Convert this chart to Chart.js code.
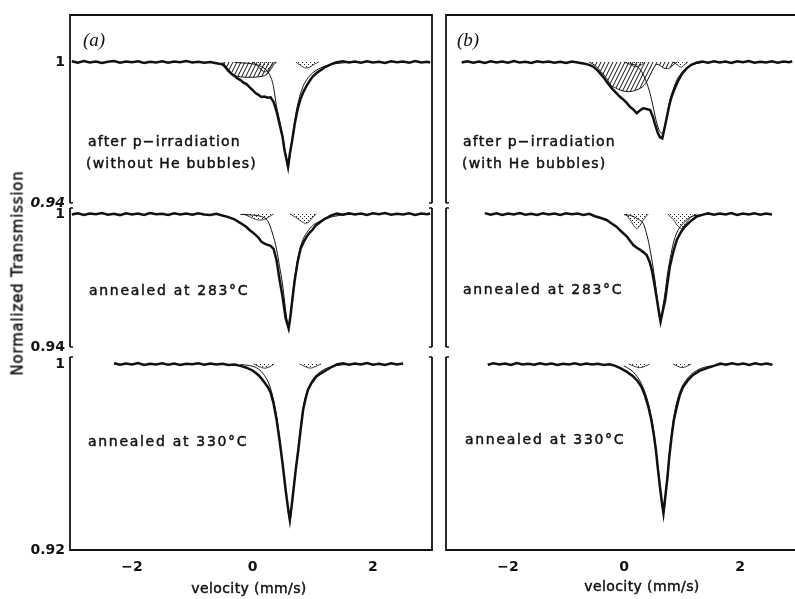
<!DOCTYPE html>
<html><head><meta charset="utf-8">
<script src="https://cdn.jsdelivr.net/npm/chart.js@4/dist/chart.umd.min.js"></script>
<style>
html,body{margin:0;padding:0;background:#fff;overflow:hidden;}
#wrap{position:relative;width:795px;height:599px;overflow:hidden;background:#fff;}
canvas{position:absolute;left:0;top:0;}
.t{position:absolute;font-family:"DejaVu Sans";color:#111;white-space:nowrap;line-height:14px;font-size:14px;-webkit-text-stroke:0.45px #111;}
.ann{letter-spacing:1.2px;}
.pl{position:absolute;font-family:"Liberation Serif";font-style:italic;font-size:19px;line-height:19px;color:#111;}
</style></head><body><div id="wrap">
<canvas id="c_a1" width="810" height="599" style="width:810px;height:599px"></canvas>
<canvas id="c_a2" width="810" height="599" style="width:810px;height:599px"></canvas>
<canvas id="c_a3" width="810" height="599" style="width:810px;height:599px"></canvas>
<canvas id="c_b1" width="810" height="599" style="width:810px;height:599px"></canvas>
<canvas id="c_b2" width="810" height="599" style="width:810px;height:599px"></canvas>
<canvas id="c_b3" width="810" height="599" style="width:810px;height:599px"></canvas>
</div>
<script>
// ---------- tick values / labels ----------
const velocityTicks = [-2, 0, 2];
const velocityTickLabels = ['\u22122', '0', '2'];
const row1Ticks = [0.94, 1];
const row1TickLabels = ['0.94', '1'];
const row2Ticks = [0.94, 1];
const row2TickLabels = ['0.94', '1'];
const row3Ticks = [0.92, 1];
const row3TickLabels = ['0.92', '1'];

// ---------- texts ----------
const panelLabels = ['(a)', '(b)'];
const yTitle = 'Normalized Transmission';
const xTitle = 'velocity (mm/s)';
const a1Text = ['after p\u2212irradiation', '(without He bubbles)'];
const b1Text = ['after p\u2212irradiation', '(with He bubbles)'];
const a2Text = 'annealed at 283\u00B0C';
const b2Text = 'annealed at 283\u00B0C';
const a3Text = 'annealed at 330\u00B0C';
const b3Text = 'annealed at 330\u00B0C';

// ---------- panel (a) row 1 : after p-irradiation, without He ----------
const a1Data = [[-3.0,1.0003],[-2.9,0.9997],[-2.8,1.0004],[-2.7,0.9998],[-2.6,1.0002],[-2.5,0.9996],[-2.4,1.0001],[-2.3,1.0004],[-2.2,0.9997],[-2.1,1.0002],[-2.0,0.9999],[-1.9,1.0003],[-1.8,0.9996],[-1.7,1.0001],[-1.6,0.9998],[-1.5,1.0003],[-1.4,0.9997],[-1.3,1.0002],[-1.2,0.9999],[-1.1,1.0004],[-1.0,0.9998],[-0.9,1.0001],[-0.8,0.9997],[-0.7,1.0000],[-0.6,0.9995],
[-0.5,0.9990],[-0.45,0.9978],[-0.4,0.9962],[-0.35,0.9950],[-0.3,0.9941],[-0.25,0.9930],[-0.2,0.9923],[-0.15,0.9912],[-0.1,0.9906],[-0.05,0.9893],[0.0,0.9881],[0.05,0.9868],[0.1,0.9860],[0.15,0.9851],[0.2,0.9853],[0.25,0.9848],[0.3,0.9850],[0.35,0.9830],[0.4,0.9790],[0.45,0.9735],[0.5,0.9680],[0.53,0.9626],[0.56,0.9590],[0.59,0.9553],[0.62,0.9610],[0.66,0.9668],[0.7,0.9735],[0.75,0.9800],[0.8,0.9845],[0.85,0.9875],[0.9,0.9900],[0.95,0.9920],[1.0,0.9938],[1.05,0.9950],[1.1,0.9960],[1.15,0.9968],[1.2,0.9978],[1.25,0.9984],[1.3,0.9990],[1.35,0.9995],[1.4,0.9999],[1.5,1.0003],
[1.6,0.9998],[1.7,1.0002],[1.8,0.9997],[1.9,1.0003],[2.0,0.9998],[2.1,1.0001],[2.2,0.9996],[2.3,1.0003],[2.4,0.9999],[2.5,1.0002],[2.6,0.9997],[2.7,1.0004],[2.8,0.9998],[2.9,1.0001],[2.95,0.9998]];
const a1Singlet = [[-0.3,0.9998],[-0.1,0.9995],[0.0,0.9992],[0.1,0.9986],[0.2,0.9972],[0.28,0.9948],[0.34,0.9905],[0.4,0.9810],[0.45,0.9750],[0.5,0.9685],[0.55,0.9610],[0.59,0.9553],[0.63,0.9615],[0.67,0.9695],[0.72,0.9780],[0.77,0.9840],[0.83,0.9890],[0.9,0.9925],[1.0,0.9954],[1.1,0.9971],[1.25,0.9986],[1.45,0.9995],[1.7,1.0]];
const a1Hatched = [[-0.5,1.0],[-0.45,0.9985],[-0.4,0.9968],[-0.35,0.9953],[-0.3,0.9943],[-0.2,0.9937],[-0.1,0.9935],[0.0,0.9935],[0.1,0.9937],[0.2,0.9942],[0.25,0.9950],[0.3,0.9968],[0.35,0.9988],[0.4,1.0]];
const a1DotsLeft = [[0.0,1.0],[0.08,0.9985],[0.15,0.9965],[0.2,0.9958],[0.25,0.9965],[0.32,0.9988],[0.38,1.0]];
const a1DotsRight = [[0.72,1.0],[0.8,0.9985],[0.88,0.9975],[0.95,0.9978],[1.02,0.9990],[1.1,1.0]];

// ---------- panel (a) row 2 : annealed at 283 C ----------
const a2Data = [[-3.0,0.9998],[-2.9,1.0003],[-2.8,0.9996],[-2.7,1.0002],[-2.6,0.9999],[-2.5,1.0004],[-2.4,0.9997],[-2.3,1.0001],[-2.2,0.9995],[-2.1,1.0003],[-2.0,0.9998],[-1.9,1.0002],[-1.8,0.9996],[-1.7,1.0004],[-1.6,0.9999],[-1.5,1.0001],[-1.4,0.9996],[-1.3,1.0003],[-1.2,0.9998],[-1.1,1.0002],[-1.0,0.9997],[-0.9,1.0003],[-0.8,0.9998],[-0.7,0.9996],[-0.6,1.0001],
[-0.5,0.9993],[-0.4,0.9986],[-0.3,0.9976],[-0.2,0.9959],[-0.1,0.9941],[-0.05,0.9928],[0.0,0.9918],[0.05,0.9906],[0.1,0.9893],[0.15,0.9874],[0.2,0.9866],[0.25,0.9861],[0.3,0.9856],[0.35,0.9843],[0.4,0.9790],[0.45,0.9702],[0.5,0.9625],[0.55,0.9530],[0.6,0.9484],[0.63,0.9540],[0.66,0.9610],[0.7,0.9700],[0.75,0.9785],[0.8,0.9845],[0.85,0.9874],[0.9,0.9898],[0.95,0.9916],[1.0,0.9930],[1.05,0.9948],[1.1,0.9958],[1.15,0.9968],[1.2,0.9978],[1.25,0.9985],[1.3,0.9993],[1.4,1.0002],[1.5,0.9997],
[1.6,1.0003],[1.7,0.9998],[1.8,1.0002],[1.9,0.9996],[2.0,1.0003],[2.1,0.9999],[2.2,1.0004],[2.3,0.9997],[2.4,1.0001],[2.5,0.9998],[2.6,1.0003],[2.7,0.9996],[2.8,1.0002],[2.9,0.9999],[2.95,1.0002]];
const a2Singlet = [[-0.2,0.9998],[0.0,0.9995],[0.15,0.9988],[0.25,0.9970],[0.33,0.9914],[0.4,0.9840],[0.45,0.9762],[0.5,0.9680],[0.53,0.9612],[0.56,0.9545],[0.6,0.9484],[0.64,0.9575],[0.68,0.9670],[0.73,0.9765],[0.78,0.9835],[0.83,0.9880],[0.9,0.9915],[1.0,0.9948],[1.1,0.9965],[1.25,0.9982],[1.45,0.9994],[1.7,1.0]];
const a2DotsLeft = [[-0.15,1.0],[-0.05,0.9988],[0.05,0.9976],[0.12,0.9972],[0.2,0.9976],[0.28,0.9988],[0.35,1.0]];
const a2DotsRight = [[0.62,1.0],[0.72,0.9985],[0.82,0.9965],[0.88,0.9958],[0.94,0.9965],[1.0,0.9985],[1.06,1.0]];

// ---------- panel (a) row 3 : annealed at 330 C ----------
const a3Data = [[-2.3,1.0003],[-2.2,0.9997],[-2.1,1.0002],[-2.0,0.9998],[-1.9,1.0004],[-1.8,0.9996],[-1.7,1.0001],[-1.6,0.9998],[-1.5,1.0003],[-1.4,0.9997],[-1.3,1.0002],[-1.2,0.9996],[-1.1,1.0001],[-1.0,0.9999],[-0.9,1.0003],[-0.8,0.9997],[-0.7,1.0002],[-0.6,0.9998],[-0.5,1.0001],[-0.4,0.9996],[-0.3,0.9998],
[-0.2,0.9992],[-0.1,0.9984],[0.0,0.9972],[0.05,0.9962],[0.1,0.9952],[0.15,0.9937],[0.2,0.9920],[0.25,0.9902],[0.3,0.9878],[0.35,0.9830],[0.4,0.9760],[0.45,0.9670],[0.5,0.9570],[0.55,0.9458],[0.59,0.9380],[0.62,0.9329],[0.65,0.9390],[0.68,0.9458],[0.72,0.9550],[0.76,0.9630],[0.8,0.9720],[0.84,0.9802],[0.88,0.9850],[0.92,0.9888],[0.98,0.9918],[1.06,0.9946],[1.15,0.9962],[1.23,0.9974],[1.32,0.9988],[1.4,0.9998],
[1.5,1.0003],[1.6,0.9997],[1.7,1.0002],[1.8,0.9998],[1.9,1.0004],[2.0,0.9997],[2.1,1.0001],[2.2,0.9996],[2.3,1.0003],[2.4,0.9998],[2.5,1.0002]];
const a3Singlet = [[-0.2,0.9998],[0.0,0.9990],[0.1,0.9978],[0.2,0.9950],[0.28,0.9910],[0.35,0.9845],[0.4,0.9775],[0.45,0.9680],[0.5,0.9578],[0.55,0.9462],[0.62,0.9329],[0.68,0.9462],[0.72,0.9555],[0.76,0.9640],[0.8,0.9730],[0.84,0.9810],[0.9,0.9878],[0.98,0.9925],[1.06,0.9952],[1.2,0.9978],[1.4,0.9993],[1.7,1.0]];
const a3DotsLeft = [[0.02,1.0],[0.1,0.9990],[0.2,0.9982],[0.3,0.9990],[0.36,1.0]];
const a3DotsRight = [[0.78,1.0],[0.88,0.9988],[0.96,0.9982],[1.05,0.9990],[1.14,1.0]];

// ---------- panel (b) row 1 : after p-irradiation, with He ----------
const b1Data = [[-2.8,0.9998],[-2.7,1.0003],[-2.6,0.9997],[-2.5,1.0002],[-2.4,0.9996],[-2.3,1.0003],[-2.2,0.9998],[-2.1,1.0002],[-2.0,0.9997],[-1.9,1.0004],[-1.8,0.9998],[-1.7,1.0001],[-1.6,0.9996],[-1.5,1.0003],[-1.4,0.9999],[-1.3,1.0002],[-1.2,0.9997],[-1.1,1.0001],[-1.0,0.9996],[-0.9,1.0002],[-0.8,0.9998],
[-0.7,0.9994],[-0.6,0.9988],[-0.53,0.9980],[-0.45,0.9962],[-0.36,0.9937],[-0.28,0.9910],[-0.21,0.9888],[-0.14,0.9870],[-0.07,0.9852],[0.0,0.9838],[0.05,0.9825],[0.1,0.9810],[0.15,0.9800],[0.22,0.9782],[0.28,0.9795],[0.33,0.9803],[0.39,0.9800],[0.45,0.9796],[0.5,0.9765],[0.53,0.9739],[0.58,0.9700],[0.62,0.9680],[0.66,0.9675],[0.7,0.9720],[0.74,0.9767],[0.78,0.9815],[0.82,0.9852],[0.88,0.9890],[0.94,0.9923],[1.0,0.9950],[1.08,0.9973],[1.16,0.9988],[1.25,0.9997],
[1.35,1.0002],[1.45,0.9997],[1.55,1.0003],[1.65,0.9998],[1.75,1.0002],[1.85,0.9996],[1.95,1.0003],[2.05,0.9999],[2.15,1.0004],[2.25,0.9997],[2.35,1.0001],[2.45,0.9998],[2.55,1.0003],[2.65,0.9997],[2.75,1.0002],[2.85,0.9999],[2.9,1.0003]];
const b1Singlet = [[0.1,0.9995],[0.2,0.9985],[0.3,0.9960],[0.39,0.9912],[0.45,0.9865],[0.5,0.9812],[0.55,0.9755],[0.59,0.9720],[0.63,0.9700],[0.66,0.9697],[0.7,0.9725],[0.74,0.9775],[0.79,0.9838],[0.85,0.9885],[0.91,0.9923],[1.0,0.9955],[1.08,0.9975],[1.2,0.9990],[1.4,1.0]];
const b1Hatched = [[-0.6,1.0],[-0.5,0.9985],[-0.4,0.9960],[-0.3,0.9930],[-0.23,0.9902],[-0.15,0.9890],[-0.07,0.9881],[0.0,0.9876],[0.1,0.9874],[0.2,0.9880],[0.28,0.9888],[0.35,0.9902],[0.39,0.9916],[0.44,0.9940],[0.48,0.9960],[0.52,0.9978],[0.57,0.9990],[0.62,0.9985],[0.68,0.9975],[0.75,0.9972],[0.82,0.9980],[0.88,0.9995],[0.92,1.0]];
const b1DotsLeft = [[0.0,1.0],[0.1,0.9990],[0.2,0.9980],[0.3,0.9988],[0.36,1.0]];
const b1DotsRight = [[0.84,1.0],[0.92,0.9988],[0.98,0.9978],[1.04,0.9988],[1.1,1.0]];

// ---------- panel (b) row 2 : annealed at 283 C ----------
const b2Data = [[-2.4,1.0004],[-2.3,0.9997],[-2.2,1.0003],[-2.1,0.9996],[-2.0,1.0002],[-1.9,0.9998],[-1.8,1.0004],[-1.7,0.9997],[-1.6,1.0001],[-1.5,0.9996],[-1.4,1.0003],[-1.3,0.9998],[-1.2,1.0002],[-1.1,0.9996],[-1.0,1.0003],[-0.9,0.9999],[-0.8,1.0002],[-0.7,0.9996],[-0.6,1.0001],
[-0.5,0.9990],[-0.4,0.9982],[-0.3,0.9973],[-0.22,0.9958],[-0.13,0.9943],[-0.05,0.9922],[0.05,0.9898],[0.1,0.9880],[0.16,0.9860],[0.22,0.9848],[0.28,0.9838],[0.34,0.9826],[0.39,0.9815],[0.44,0.9785],[0.48,0.9747],[0.52,0.9690],[0.56,0.9627],[0.6,0.9560],[0.63,0.9515],[0.67,0.9565],[0.71,0.9612],[0.75,0.9690],[0.79,0.9762],[0.85,0.9830],[0.91,0.9883],[0.98,0.9918],[1.05,0.9943],[1.15,0.9968],[1.25,0.9988],[1.35,0.9996],
[1.45,1.0003],[1.55,0.9997],[1.65,1.0002],[1.75,0.9998],[1.85,1.0004],[1.95,0.9996],[2.05,1.0002],[2.15,0.9998],[2.25,1.0003],[2.35,0.9997],[2.45,1.0002],[2.55,0.9998]];
const b2Singlet = [[0.0,0.9997],[0.15,0.9990],[0.25,0.9975],[0.33,0.9958],[0.4,0.9900],[0.45,0.9838],[0.5,0.9760],[0.54,0.9688],[0.58,0.9600],[0.63,0.9515],[0.67,0.9580],[0.71,0.9650],[0.75,0.9730],[0.8,0.9805],[0.85,0.9868],[0.91,0.9915],[0.97,0.9943],[1.05,0.9965],[1.14,0.9985],[1.3,0.9996],[1.5,1.0]];
const b2DotsLeft = [[0.02,1.0],[0.1,0.9975],[0.17,0.9948],[0.22,0.9935],[0.28,0.9950],[0.35,0.9980],[0.42,1.0]];
const b2DotsRight = [[0.75,1.0],[0.85,0.9975],[0.93,0.9945],[0.99,0.9935],[1.06,0.9955],[1.15,0.9985],[1.25,1.0]];

// ---------- panel (b) row 3 : annealed at 330 C ----------
const b3Data = [[-2.35,0.9997],[-2.25,1.0003],[-2.15,0.9998],[-2.05,1.0002],[-1.95,0.9996],[-1.85,1.0004],[-1.75,0.9998],[-1.65,1.0001],[-1.55,0.9997],[-1.45,1.0003],[-1.35,0.9998],[-1.25,1.0002],[-1.15,0.9996],[-1.05,1.0001],[-0.95,0.9998],[-0.85,1.0003],[-0.75,0.9997],[-0.65,1.0002],[-0.55,0.9998],[-0.45,1.0001],[-0.35,0.9996],[-0.25,0.9999],
[-0.15,0.9992],[-0.05,0.9980],[0.05,0.9966],[0.16,0.9946],[0.23,0.9928],[0.3,0.9902],[0.36,0.9865],[0.42,0.9816],[0.47,0.9760],[0.51,0.9702],[0.55,0.9630],[0.58,0.9558],[0.62,0.9470],[0.65,0.9410],[0.68,0.9358],[0.71,0.9425],[0.75,0.9515],[0.78,0.9600],[0.82,0.9687],[0.86,0.9760],[0.91,0.9816],[0.96,0.9865],[1.02,0.9902],[1.1,0.9930],[1.19,0.9953],[1.3,0.9970],[1.43,0.9982],[1.55,0.9992],
[1.66,1.0002],[1.76,0.9997],[1.86,1.0003],[1.96,0.9998],[2.06,1.0002],[2.16,0.9996],[2.26,1.0003],[2.36,0.9998],[2.46,1.0002],[2.56,0.9997]];
const b3Singlet = [[0.0,0.9992],[0.16,0.9965],[0.3,0.9915],[0.42,0.9830],[0.51,0.9715],[0.58,0.9570],[0.63,0.9460],[0.68,0.9358],[0.72,0.9440],[0.78,0.9612],[0.86,0.9775],[0.96,0.9878],[1.1,0.9940],[1.3,0.9978],[1.6,0.9995],[1.8,1.0]];
const b3DotsLeft = [[0.08,1.0],[0.18,0.9990],[0.27,0.9984],[0.36,0.9990],[0.44,1.0]];
const b3DotsRight = [[0.84,1.0],[0.93,0.9990],[1.0,0.9984],[1.08,0.9990],[1.16,1.0]];

// ---------- layout (positions, not data) ----------
const ROWS = [
  {min:0.94, max:1.02,   top:15,  bottom:203, ticks:row1Ticks, labels:row1TickLabels, italicFirst:true},
  {min:0.94, max:1.0027, top:208, bottom:347, ticks:row2Ticks, labels:row2TickLabels, italicFirst:false},
  {min:0.92, max:1.003,  top:357, bottom:550, ticks:row3Ticks, labels:row3TickLabels, italicFirst:false}
];
const COLS = {
  left:  {padL:0,   padR:378, xmin:-3.03, xmax:2.98, showY:true},
  right: {padL:446, padR:12,  xmin:-3.07, xmax:3.0,  showY:false}
};
const CW = 810, CH = 599;

function makeTile(kind) {
  const c = document.createElement('canvas');
  const g = c.getContext('2d');
  if (kind === 'hatch') {
    c.width = 4; c.height = 8;
    g.strokeStyle = '#111'; g.lineWidth = 1;
    for (const x0 of [-4, 0, 4]) { g.beginPath(); g.moveTo(x0, 8); g.lineTo(x0 + 4, 0); g.stroke(); }
  } else {
    c.width = 4; c.height = 4;
    g.fillStyle = '#222';
    g.fillRect(0, 0, 1, 1); g.fillRect(2, 2, 1, 1);
  }
  return c;
}
const hatchTile = makeTile('hatch');
const dotTile = makeTile('dots');

const framePlugin = {
  id: 'frame',
  afterDatasetsDraw(chart, args, o) {
    const {ctx, chartArea: a} = chart;
    ctx.save();
    ctx.strokeStyle = '#111';
    ctx.lineWidth = 1.8;
    ctx.beginPath();
    ctx.moveTo(a.left, a.top); ctx.lineTo(a.left, a.bottom);
    ctx.moveTo(a.right, a.top); ctx.lineTo(a.right, a.bottom);
    if (o.top) { ctx.moveTo(a.left - 0.9, a.top); ctx.lineTo(a.right + 0.9, a.top); }
    if (o.bottom) { ctx.moveTo(a.left - 0.9, a.bottom); ctx.lineTo(a.right + 0.9, a.bottom); }
    ctx.stroke();
    ctx.lineWidth = 1.4;
    ctx.beginPath();
    if (!o.top) {
      ctx.moveTo(a.left, a.top); ctx.lineTo(a.left + 3, a.top);
      ctx.moveTo(a.right, a.top); ctx.lineTo(a.right - 3, a.top);
    }
    if (!o.bottom) {
      ctx.moveTo(a.left, a.bottom); ctx.lineTo(a.left + 3, a.bottom);
      ctx.moveTo(a.right, a.bottom); ctx.lineTo(a.right - 3, a.bottom);
    }
    ctx.stroke();
    ctx.restore();
  }
};

const xy = arr => arr.map(p => ({x: p[0], y: p[1]}));

function buildPanel(id, colKey, rowIdx, panel) {
  const col = COLS[colKey], row = ROWS[rowIdx];
  const canvas = document.getElementById(id);
  const ctx = canvas.getContext('2d');
  const hatchPat = ctx.createPattern(hatchTile, 'repeat');
  const dotPat = ctx.createPattern(dotTile, 'repeat');
  const ds = [];
  ds.push({data: xy(panel.data), borderColor:'#111', borderWidth:2.5, pointRadius:0, tension:0, fill:false});
  ds.push({data: xy(panel.singlet), borderColor:'#111', borderWidth:1, pointRadius:0, cubicInterpolationMode:'monotone', fill:false});
  panel.dots.forEach(d => ds.push({data: xy(d), borderColor:'#111', borderWidth:0.8, pointRadius:0,
      cubicInterpolationMode:'monotone', backgroundColor: dotPat, fill:{value:1}}));
  if (panel.hatched) ds.push({data: xy(panel.hatched), borderColor:'#111', borderWidth:1, pointRadius:0,
      cubicInterpolationMode:'monotone', backgroundColor: hatchPat, fill:{value:1}});
  const isBottom = rowIdx === 2;
  const padBottom = isBottom ? (CH - row.bottom - 30) : (CH - row.bottom);
  return new Chart(ctx, {
    type: 'line',
    data: {datasets: ds},
    options: {
      responsive: false, animation: false, devicePixelRatio: 1, events: [],
      layout: {padding: {left: col.padL, right: col.padR, top: row.top, bottom: padBottom}},
      plugins: {legend:{display:false}, tooltip:{enabled:false},
                frame: {top: rowIdx === 0, bottom: isBottom}},
      scales: {
        x: {
          type: 'linear', min: col.xmin, max: col.xmax, display: isBottom,
          grid: {display:false, drawTicks:false}, border: {display:false},
          ticks: {autoSkip:false, maxRotation:0, padding:9, color:'#111',
                  font:{family:'DejaVu Sans', size:14, weight:'bold'},
                  callback: (v, i) => velocityTickLabels[i]},
          afterBuildTicks: s => { s.ticks = velocityTicks.map(v => ({value: v})); },
          afterFit: s => { s.height = isBottom ? 30 : 0; }
        },
        y: {
          type: 'linear', min: row.min, max: row.max, display: col.showY,
          grid: {display:false, drawTicks:false}, border: {display:false},
          ticks: {autoSkip:false, padding:5, color:'#111',
                  font: c => ({family:'DejaVu Sans', size:14, weight:'bold',
                               style: (row.italicFirst && c.index === 0) ? 'italic' : 'normal'}),
                  callback: (v, i) => row.labels[i]},
          afterBuildTicks: s => { s.ticks = row.ticks.map(v => ({value: v})); },
          afterFit: s => { s.width = col.showY ? 70 : 0; s.paddingTop = 0; s.paddingBottom = 0; }
        }
      }
    },
    plugins: [framePlugin]
  });
}

buildPanel('c_a1', 'left', 0, {data:a1Data, singlet:a1Singlet, hatched:a1Hatched, dots:[a1DotsLeft, a1DotsRight]});
buildPanel('c_a2', 'left', 1, {data:a2Data, singlet:a2Singlet, dots:[a2DotsLeft, a2DotsRight]});
buildPanel('c_a3', 'left', 2, {data:a3Data, singlet:a3Singlet, dots:[a3DotsLeft, a3DotsRight]});
buildPanel('c_b1', 'right', 0, {data:b1Data, singlet:b1Singlet, hatched:b1Hatched, dots:[b1DotsLeft, b1DotsRight]});
buildPanel('c_b2', 'right', 1, {data:b2Data, singlet:b2Singlet, dots:[b2DotsLeft, b2DotsRight]});
buildPanel('c_b3', 'right', 2, {data:b3Data, singlet:b3Singlet, dots:[b3DotsLeft, b3DotsRight]});

// ---------- text elements ----------
const wrap = document.getElementById('wrap');
function addText(txt, cls, left, top, extra) {
  const d = document.createElement('div');
  d.className = cls; d.textContent = txt;
  d.style.left = left + 'px'; d.style.top = top + 'px';
  if (extra) Object.assign(d.style, extra);
  wrap.appendChild(d);
  return d;
}
addText(panelLabels[0], 'pl', 83, 30);
addText(panelLabels[1], 'pl', 457, 30);
addText(a1Text[0], 't ann', 88, 134);
addText(a1Text[1], 't ann', 86, 156);
addText(b1Text[0], 't ann', 463, 134);
addText(b1Text[1], 't ann', 462, 156);
addText(a2Text, 't ann', 89, 283, {letterSpacing:'1.7px'});
addText(b2Text, 't ann', 463, 282, {letterSpacing:'1.7px'});
addText(a3Text, 't ann', 88, 434, {letterSpacing:'1.7px'});
addText(b3Text, 't ann', 465, 432, {letterSpacing:'1.7px'});
addText(xTitle, 't', 249, 581, {transform:'translateX(-50%)', letterSpacing:'0.4px'});
addText(xTitle, 't', 642, 579, {transform:'translateX(-50%)', letterSpacing:'0.4px'});
addText(yTitle, 't', 18, 273, {fontSize:'15px', lineHeight:'15px', letterSpacing:'0.8px',
  transform:'translate(-50%,-50%) rotate(-90deg)'});
</script>
</body></html>
